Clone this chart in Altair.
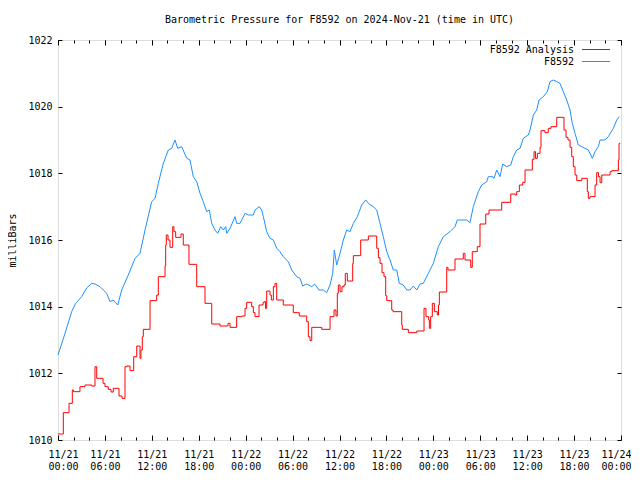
import altair as alt
import pandas as pd

TITLE = "Barometric Pressure for F8592 on 2024-Nov-21 (time in UTC)"
START = "2024-11-21T00:00:00Z"
SERIES = ["F8592 Analysis", "F8592"]
COLORS = ["#ff0000", "#1e90ff"]
Y_TICKS = [1010, 1012, 1014, 1016, 1018, 1020, 1022]
MAJOR_HOURS = list(range(0, 73, 6))
MINOR_HOURS = list(range(0, 73, 2))

# Analysis series (step)
RED_HOURS = [0.0, 0.68, 1.41, 1.83, 1.98, 2.81, 3.45, 4.31, 4.73, 4.95, 5.76, 6.01, 6.43, 6.78,
             7.07, 7.8, 8.19, 8.57, 8.79, 9.21, 9.68, 10.07, 10.49, 10.61, 10.78, 10.91, 11.77,
             12.62, 12.83, 13.69, 13.77, 13.85, 14.07, 14.32, 14.67, 14.83, 15.05, 15.73, 16.02,
             16.75, 17.74, 18.8, 19.66, 20.72, 21.74, 22.0, 22.85, 23.49, 23.92, 24.13, 24.77,
             24.98, 25.19, 25.71, 26.22, 26.35, 26.54, 26.69, 27.11, 27.28, 27.54, 27.75, 27.97,
             28.81, 30.09, 30.86, 31.81, 32.01, 32.23, 32.45, 33.73, 34.79, 35.3, 35.55, 35.72,
             35.85, 36.07, 36.32, 36.58, 36.74, 37.0, 37.69, 37.77, 38.71, 39.69, 40.76, 40.97,
             41.18, 41.44, 41.69, 41.91, 42.04, 42.68, 42.84, 43.96, 44.03, 44.8, 45.88, 46.81,
             47.06, 47.41, 47.49, 47.66, 47.87, 48.13, 48.51, 48.66, 48.77, 49.71, 49.87, 50.77,
             51.83, 52.05, 52.78, 52.98, 53.62, 53.97, 54.7, 55.12, 56.74, 57.9, 58.45, 58.66,
             59.0, 59.43, 59.73, 60.66, 60.88, 61.07, 61.3, 61.65, 61.77, 62.28, 62.7, 63.05,
             63.78, 64.71, 64.97, 65.22, 65.48, 65.7, 65.9, 66.12, 66.34, 66.98, 67.69, 67.82,
             68.03, 68.68, 68.89, 69.12, 69.32, 69.54, 70.6, 70.82, 71.66, 71.75, 71.9]
RED_P = [1010.18, 1010.82, 1011.1, 1011.5, 1011.45, 1011.6, 1011.65, 1011.62, 1012.2, 1011.85,
         1011.7, 1011.6, 1011.52, 1011.44, 1011.55, 1011.32, 1011.25, 1012.2, 1012.22, 1012.08,
         1012.5, 1012.82, 1012.45, 1012.7, 1013.1, 1013.32, 1014.18, 1014.35, 1014.9, 1015.22,
         1015.85, 1016.15, 1016.0, 1015.78, 1016.4, 1016.25, 1016.08, 1016.18, 1015.85, 1015.27,
         1014.6, 1014.1, 1013.48, 1013.42, 1013.5, 1013.38, 1013.7, 1013.72, 1013.95, 1014.13,
         1014.0, 1013.82, 1013.7, 1014.05, 1014.12, 1014.15, 1013.95, 1014.47, 1014.35, 1014.2,
         1014.6, 1014.7, 1014.2, 1014.05, 1013.82, 1013.72, 1013.55, 1013.1, 1012.98, 1013.38,
         1013.32, 1013.7, 1013.9, 1013.72, 1014.4, 1014.65, 1014.45, 1014.6, 1014.65, 1015.0,
         1014.77, 1015.3, 1015.53, 1016.0, 1016.12, 1015.75, 1015.47, 1015.3, 1015.02, 1014.9,
         1014.33, 1014.18, 1013.9, 1013.85, 1013.45, 1013.32, 1013.22, 1013.27, 1013.95, 1013.7,
         1013.6, 1013.35, 1013.7, 1014.1, 1013.85, 1013.75, 1014.05, 1014.44, 1015.18, 1015.1,
         1015.43, 1015.6, 1015.4, 1015.18, 1015.65, 1015.8, 1016.48, 1016.78, 1016.9, 1017.13,
         1017.38, 1017.35, 1017.45, 1017.65, 1017.73, 1018.1, 1018.42, 1018.65, 1018.45, 1018.6,
         1018.78, 1019.28, 1019.22, 1019.35, 1019.4, 1019.68, 1019.3, 1019.08, 1019.0, 1018.78,
         1018.5, 1018.2, 1017.95, 1017.78, 1017.85, 1017.45, 1017.25, 1017.3, 1017.65, 1018.02,
         1017.9, 1017.72, 1017.95, 1018.05, 1018.08, 1018.4, 1018.9, 1018.9]

# Observed series
BLUE_HOURS = [0.0, 0.9, 1.75, 2.26, 3.03, 3.67, 4.31, 4.73, 5.37, 5.79, 6.23, 6.65, 7.07, 7.64,
              8.15, 8.99, 9.85, 10.49, 11.13, 11.98, 12.41, 12.83, 13.47, 14.11, 14.54, 14.96,
              15.31, 15.82, 16.46, 16.88, 17.3, 17.74, 18.16, 18.58, 19.02, 19.35, 19.66, 20.08,
              20.42, 20.81, 21.14, 21.45, 21.58, 22.0, 22.64, 22.85, 23.28, 23.92, 24.34, 24.98,
              25.19, 25.74, 26.05, 26.26, 26.69, 27.11, 27.54, 27.97, 28.39, 28.81, 29.45, 29.89,
              30.53, 30.95, 31.3, 31.81, 32.45, 32.83, 33.38, 33.93, 34.36, 34.79, 35.13, 35.34,
              35.64, 36.07, 36.49, 36.92, 37.34, 37.77, 38.28, 38.84, 39.35, 39.69, 40.32, 40.76,
              41.18, 41.6, 42.04, 42.46, 42.88, 43.32, 43.65, 44.16, 44.6, 45.02, 45.44, 45.88,
              46.3, 46.72, 47.36, 48.0, 48.64, 49.28, 50.13, 50.77, 51.07, 51.63, 52.27, 52.69,
              53.11, 53.75, 54.19, 54.83, 55.03, 55.6, 55.76, 56.11, 56.53, 56.87, 57.38, 57.9,
              58.23, 58.66, 59.09, 59.51, 60.15, 60.37, 60.79, 61.22, 61.52, 62.07, 62.58, 62.92,
              63.35, 63.78, 64.2, 64.62, 65.06, 65.48, 65.77, 66.12, 66.54, 66.98, 67.4, 67.82,
              68.33, 68.68, 69.1, 69.32, 69.96, 70.38, 71.02, 71.45, 71.79]
BLUE_P = [1012.55, 1013.2, 1013.85, 1014.1, 1014.3, 1014.56, 1014.7, 1014.68, 1014.6, 1014.5,
          1014.4, 1014.15, 1014.2, 1014.05, 1014.5, 1014.95, 1015.45, 1015.6, 1016.3, 1017.15,
          1017.25, 1017.7, 1018.3, 1018.7, 1018.75, 1019.0, 1018.75, 1018.8, 1018.45, 1018.4,
          1017.9, 1017.75, 1017.4, 1017.15, 1016.85, 1016.9, 1016.5, 1016.3, 1016.2, 1016.4,
          1016.3, 1016.4, 1016.2, 1016.35, 1016.7, 1016.5, 1016.5, 1016.8, 1016.75, 1016.75,
          1016.9, 1017.0, 1016.9, 1016.7, 1016.25, 1016.05, 1016.0, 1015.75, 1015.65, 1015.5,
          1015.35, 1015.1, 1014.9, 1014.85, 1014.62, 1014.68, 1014.6, 1014.68, 1014.5, 1014.5,
          1014.42, 1014.65, 1015.0, 1015.7, 1015.25, 1015.6, 1016.0, 1016.3, 1016.25, 1016.5,
          1016.7, 1017.05, 1017.2, 1017.1, 1017.0, 1016.9, 1016.5, 1016.1, 1015.65, 1015.4,
          1015.1, 1015.1, 1014.7, 1014.65, 1014.5, 1014.5, 1014.62, 1014.5, 1014.68, 1014.7,
          1015.0, 1015.3, 1015.8, 1016.1, 1016.25, 1016.4, 1016.6, 1016.6, 1016.6, 1016.52,
          1017.0, 1017.45, 1017.65, 1017.75, 1017.9, 1017.9, 1017.85, 1018.1, 1017.9, 1018.28,
          1018.2, 1018.25, 1018.5, 1018.7, 1018.75, 1019.05, 1019.15, 1019.3, 1019.75, 1019.9,
          1020.2, 1020.3, 1020.45, 1020.75, 1020.8, 1020.75, 1020.7, 1020.45, 1020.2, 1019.9,
          1019.5, 1019.2, 1018.85, 1018.8, 1018.75, 1018.7, 1018.45, 1018.65, 1018.8, 1019.0,
          1019.0, 1019.1, 1019.35, 1019.6, 1019.7]

FONT = "DejaVu Sans Mono"
start = pd.Timestamp(START)


def to_iso(h):
    return (start + pd.Timedelta(hours=h)).strftime("%Y-%m-%dT%H:%M:%SZ")


def to_ms(h):
    return int((start + pd.Timedelta(hours=h)).timestamp() * 1000)


red_df = pd.DataFrame({"t": [to_iso(h) for h in RED_HOURS], "p": RED_P, "s": SERIES[0]})
blue_df = pd.DataFrame({"t": [to_iso(h) for h in BLUE_HOURS], "p": BLUE_P, "s": SERIES[1]})

major = [to_ms(h) for h in MAJOR_HOURS]
minor = [to_ms(h) for h in MINOR_HOURS]
xscale = alt.Scale(type="utc", domain=[to_ms(0), to_ms(72)])
yscale = alt.Scale(domain=[1010, 1022], nice=False, zero=False)
color = alt.Color("s:N", scale=alt.Scale(domain=SERIES, range=COLORS),
                  sort=SERIES,
                  legend=alt.Legend(title=None, orient="none", legendX=503, legendY=3,
                                    symbolType="M2.417,0H7.083", symbolSize=144,
                                    symbolStrokeWidth=1, labelAlign="right",
                                    labelOffset=0, symbolOffset=0, rowPadding=0, padding=0,
                                    labelFont=FONT, labelFontSize=10, labelColor="black"))

common_axis = dict(domain=False, grid=False, tickColor="black", labelColor="black",
                   labelFont=FONT, labelFontSize=10, tickWidth=1)

red = alt.Chart(red_df).mark_line(interpolate="step-after", strokeWidth=1).encode(
    x=alt.X("t:T", scale=xscale,
            axis=alt.Axis(orient="bottom", values=major, offset=-5, tickSize=5, title=None,
                          labelExpr="[utcFormat(datum.value, '%m/%d'), utcFormat(datum.value, '%H:%M')]",
                          labelPadding=9, labelLineHeight=12.5, labelFlush=True,
                          labelFlushOffset=10,
                          labelOverlap=False, labelBaseline="top", **common_axis)),
    y=alt.Y("p:Q", scale=yscale,
            axis=alt.Axis(orient="left", values=Y_TICKS, offset=-4, tickSize=4, format="d",
                          title="milliBars", titleFont=FONT, titleFontSize=10,
                          titleFontWeight="normal", titleColor="black", titlePadding=10,
                          labelPadding=6, **common_axis)),
    color=color,
)

blue = alt.Chart(blue_df).mark_line(strokeWidth=1).encode(
    x=alt.X("t:T", scale=xscale,
            axis=alt.Axis(orient="top", values=major, offset=-5, tickSize=5, title=None,
                          labels=False, **common_axis)),
    y=alt.Y("p:Q", scale=yscale,
            axis=alt.Axis(orient="right", values=Y_TICKS, offset=-4, tickSize=4, title=None,
                          labels=False, **common_axis)),
    color=color,
)

minor_bottom = alt.Chart(blue_df).mark_line(opacity=0).encode(
    x=alt.X("t:T", scale=xscale,
            axis=alt.Axis(orient="bottom", values=minor, offset=-3, tickSize=3, title=None,
                          labels=False, **common_axis)),
    y=alt.Y("p:Q", scale=yscale, axis=None),
)
minor_top = alt.Chart(blue_df).mark_line(opacity=0).encode(
    x=alt.X("t:T", scale=xscale,
            axis=alt.Axis(orient="top", values=minor, offset=-3, tickSize=3, title=None,
                          labels=False, **common_axis)),
    y=alt.Y("p:Q", scale=yscale, axis=None),
)

chart = alt.layer(red, blue, minor_bottom, minor_top).resolve_axis(
    x="independent", y="independent"
).properties(
    width=563, height=400,
    autosize=alt.AutoSizeParams(type="none"),
    padding={"left": 50, "top": 32, "right": 10, "bottom": 32},
    title=alt.TitleParams(TITLE, font=FONT, fontSize=10, fontWeight="normal", color="black",
                          anchor="middle", offset=0, baseline="bottom"),
).configure_view(stroke="black", strokeWidth=1, fill="white").configure(background="white")

chart.save("out.html", embed_options={"renderer": "svg", "actions": False})
